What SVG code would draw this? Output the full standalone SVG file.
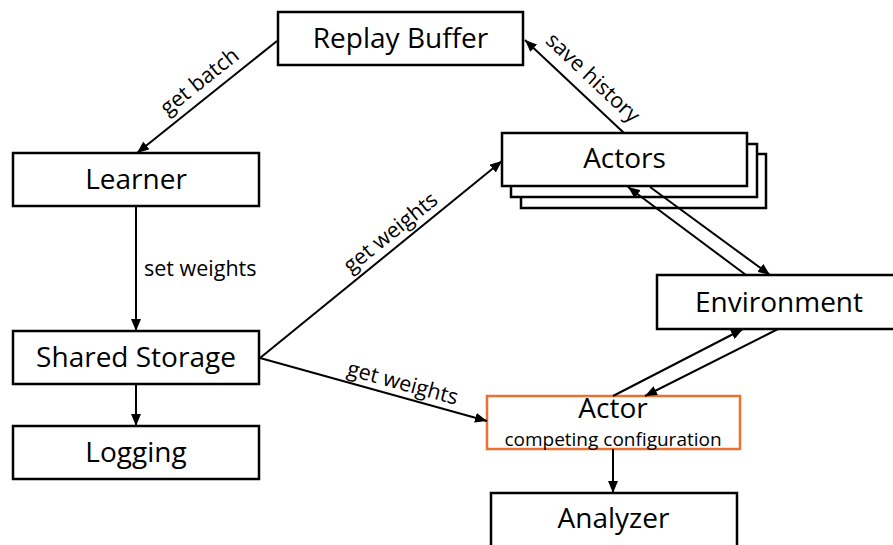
<svg xmlns="http://www.w3.org/2000/svg" width="893" height="545" viewBox="0 0 893 545">
<defs>
<style>
.box{fill:#fff;stroke:#000;stroke-width:2.5}
.orange{fill:#fff;stroke:#E97132;stroke-width:2.5}
.lbl{font-family:"Open Sans","Liberation Sans",sans-serif;font-size:28px;fill:#000;text-anchor:middle}
.sub{font-family:"Open Sans","Liberation Sans",sans-serif;font-size:19px;fill:#000;text-anchor:middle}
.edge{font-family:"Open Sans","Liberation Sans",sans-serif;font-size:21.5px;fill:#000;text-anchor:middle}
.conn line{stroke:#000;stroke-width:2;marker-end:url(#arr)}
</style>
<marker id="arr" markerUnits="userSpaceOnUse" markerWidth="12" markerHeight="10" refX="12" refY="5" orient="auto">
<path d="M0,0 L12,5 L0,10 z" fill="#000"/>
</marker>
</defs>
<rect width="893" height="545" fill="#fff"/>
<g id="replay-buffer">
<rect class="box" x="278" y="12" width="245" height="53"/>
<text class="lbl" x="400.5" y="48">Replay Buffer</text>
</g>
<g id="learner">
<rect class="box" x="13" y="153" width="246" height="53"/>
<text class="lbl" x="136" y="189">Learner</text>
</g>
<g id="shared-storage">
<rect class="box" x="13" y="331" width="246" height="53"/>
<text class="lbl" x="136" y="367">Shared Storage</text>
</g>
<g id="logging">
<rect class="box" x="13" y="426" width="246" height="53"/>
<text class="lbl" x="136" y="462">Logging</text>
</g>
<g id="actors">
<rect class="box" x="521" y="154" width="245" height="54"/>
<rect class="box" x="511" y="144" width="246" height="53"/>
<rect class="box" x="502" y="133" width="245" height="53"/>
<text class="lbl" x="624.5" y="168">Actors</text>
</g>
<g id="environment">
<rect class="box" x="657" y="275" width="245" height="54"/>
<text class="lbl" x="779" y="312">Environment</text>
</g>
<g id="actor">
<rect class="orange" x="487" y="396" width="253" height="53"/>
<text class="lbl" x="613" y="418">Actor</text>
<text class="sub" x="613" y="446">competing configuration</text>
</g>
<g id="analyzer">
<rect class="box" x="491" y="493" width="246" height="60"/>
<text class="lbl" x="613.5" y="528">Analyzer</text>
</g>
<g id="connectors" class="conn">
<line x1="277" y1="41" x2="137" y2="153"/>
<line x1="136" y1="206" x2="136" y2="331"/>
<line x1="136" y1="384" x2="136" y2="426"/>
<line x1="260" y1="358" x2="502" y2="161"/>
<line x1="260" y1="358" x2="487" y2="421"/>
<line x1="624" y1="133" x2="525" y2="40"/>
<line x1="746" y1="275" x2="628" y2="187"/>
<line x1="650" y1="187" x2="770" y2="275"/>
<line x1="613" y1="396" x2="743" y2="329"/>
<line x1="778" y1="329" x2="645" y2="396"/>
<line x1="613" y1="449" x2="613" y2="493"/>
</g>
<g id="edge-labels">
<text class="edge" transform="translate(204,87) rotate(-38.6)">get batch</text>
<text class="edge" x="144" y="276" style="text-anchor:start">set weights</text>
<text class="edge" transform="translate(395,238) rotate(-38.9)">get weights</text>
<text class="edge" transform="translate(401,390) rotate(15.3)">get weights</text>
<text class="edge" transform="translate(588,83) rotate(43.2)">save history</text>
</g>
</svg>
